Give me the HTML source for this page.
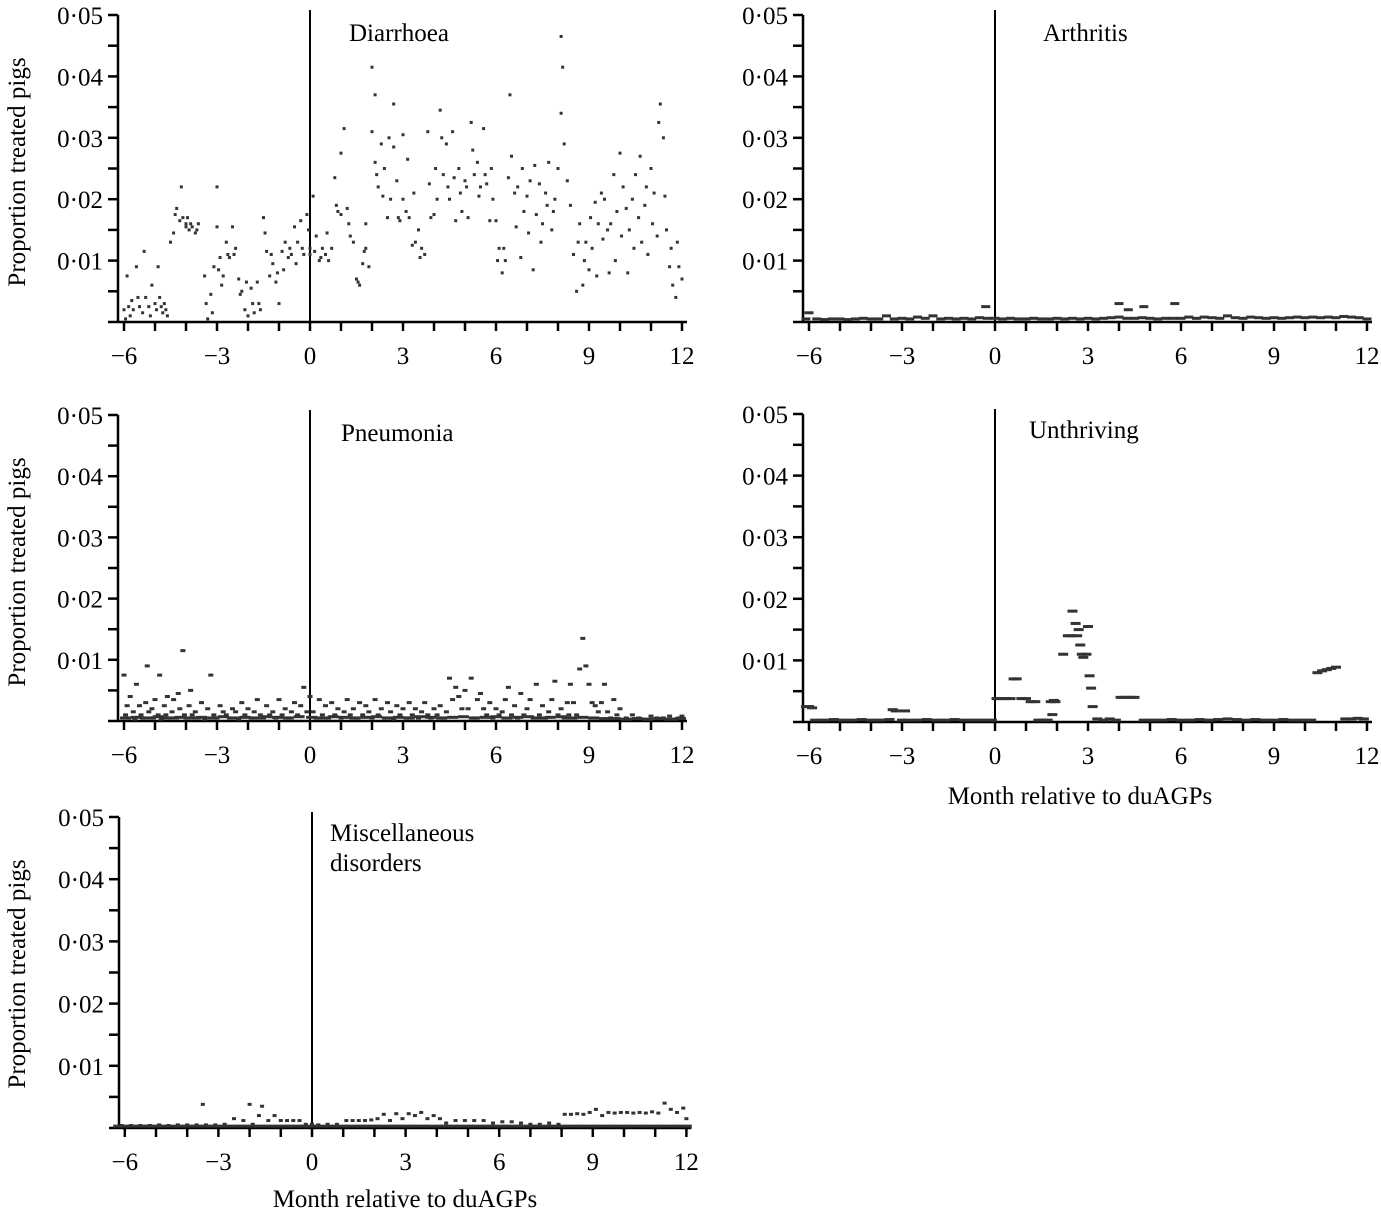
<!DOCTYPE html>
<html><head><meta charset="utf-8">
<style>
body{margin:0;background:#fff;}
svg{display:block;font-family:"Liberation Serif",serif;}
</style></head>
<body>
<svg id="fig" width="1381" height="1216" viewBox="0 0 1381 1216" xmlns="http://www.w3.org/2000/svg">
<text transform="translate(25,172) rotate(-90)" text-anchor="middle" font-size="25">Proportion treated pigs</text>
<text transform="translate(25,572) rotate(-90)" text-anchor="middle" font-size="25">Proportion treated pigs</text>
<text transform="translate(25,974) rotate(-90)" text-anchor="middle" font-size="25">Proportion treated pigs</text>
<text x="1080" y="804" text-anchor="middle" font-size="25">Month relative to duAGPs</text>
<text x="405" y="1207" text-anchor="middle" font-size="25">Month relative to duAGPs</text>
</svg>
<script>
// values in units of 0.001 (proportion treated pigs)
const xTickLabels = ["\u22126","\u22123","0","3","6","9","12"];
const xTickValues = [-6,-3,0,3,6,9,12];
const yTickLabels = ["0\u00b701","0\u00b702","0\u00b703","0\u00b704","0\u00b705"];
const yTickValues = [10,20,30,40,50];

const diarrhoeaMonths = [
-6,-5.95,-5.9,-5.85,-5.8,-5.75,-5.7,-5.6,-5.55,-5.5,
-5.4,-5.35,-5.3,-5.2,-5.15,-5.1,-5,-4.95,-4.9,-4.85,
-4.8,-4.75,-4.7,-4.65,-4.6,-4.5,-4.4,-4.35,-4.3,-4.2,
-4.15,-4.1,-4,-4,-3.95,-3.9,-3.85,-3.8,-3.7,-3.65,
-3.6,-3.4,-3.35,-3.3,-3.2,-3.15,-3.1,-3,-3,-2.95,
-2.9,-2.85,-2.8,-2.7,-2.65,-2.6,-2.5,-2.45,-2.4,-2.3,
-2.25,-2.2,-2.1,-2.05,-2,-1.9,-1.85,-1.8,-1.7,-1.65,
-1.6,-1.5,-1.45,-1.4,-1.3,-1.25,-1.2,-1.1,-1.05,-1,
-0.9,-0.85,-0.8,-0.7,-0.65,-0.6,-0.5,-0.45,-0.4,-0.3,
-0.25,-0.2,-0.1,-0.05,0,0,0.1,0.15,0.2,0.3,
0.35,0.4,0.5,0.55,0.6,0.7,0.8,0.85,0.9,1,
1,1.1,1.2,1.25,1.3,1.4,1.5,1.55,1.6,1.7,
1.75,1.8,1.8,1.9,2,2,2.1,2.1,2.15,2.2,
2.3,2.35,2.4,2.5,2.55,2.6,2.7,2.7,2.8,2.85,
2.9,3,3,3.1,3.15,3.2,3.3,3.35,3.4,3.5,
3.55,3.6,3.7,3.8,3.85,3.9,4,4.05,4.1,4.2,
4.25,4.3,4.4,4.45,4.5,4.6,4.65,4.7,4.8,4.85,
4.9,5,5.05,5.1,5.2,5.25,5.3,5.4,5.45,5.5,
5.6,5.65,5.7,5.8,5.85,5.9,6,6.05,6.1,6.2,
6.25,6.3,6.4,6.45,6.5,6.6,6.65,6.7,6.8,6.85,
6.9,7,7.05,7.1,7.2,7.25,7.3,7.4,7.45,7.5,
7.6,7.65,7.7,7.8,7.85,7.9,8,8.1,8.1,8.15,
8.2,8.3,8.4,8.5,8.6,8.65,8.7,8.8,8.85,8.9,
9,9.05,9.1,9.2,9.25,9.3,9.4,9.45,9.5,9.6,
9.65,9.7,9.8,9.85,9.9,10,10.05,10.1,10.2,10.25,
10.3,10.4,10.45,10.5,10.6,10.65,10.7,10.8,10.85,10.9,
11,11.05,11.1,11.2,11.25,11.3,11.4,11.45,11.5,11.6,
11.65,11.7,11.8,11.85,11.9,12];
const diarrhoeaValues = [
2,0.5,7.5,2.5,1,3.5,2,9,4,2.5,
1.5,11.5,4,2.5,1,6,3,2,9,4,
2.5,1.5,3,2,1,13,14.5,17.5,18.5,16.5,
22,17,15.5,16,17,15,16,15.5,14.5,15,
16,7.5,3,0.5,4.5,1.5,9,15.5,22,8.5,
10.5,6,7.5,13,11,10.5,15.5,11,12,7,
4.5,5,2,6.5,1,5.5,3,1.5,6.5,3,
2,17,14.5,11.5,7.5,11,9.5,6.5,8,3,
11.5,8.5,13,10.5,12,11,15.5,9.5,13,16.5,
12,11,17.5,15,11,12,20.5,11.5,14,10,
10.5,12,11,14.5,10,12,23.5,19,18,17.5,
27.5,31.5,18.5,16,14,13,7,6.5,6,9.5,
11.5,16,12,9,31,41.5,37,26,24,22,
29,20.5,25,17,30,20,35.5,28.5,23,17,
16.5,30.5,20,18,26.5,17,12.5,21,13,15,
10.5,12,11,31,22.5,17,17.5,25,20,34.5,
30,24,29,22,20,31,23.5,16.5,25,21,
18,23,22,17,32.5,28,24,26,20.5,22,
31.5,24,22.5,16.5,25,20,16.5,10,12,8,
12,10,23.5,37,27,21,15.5,22,10.5,25,
18,20.5,14.5,23,8.5,25.5,17.5,22.5,13,16,
21,19,26,15,18,20,25,46.5,34,41.5,
29,23,19,11,5,13,16,6,10,13,
8.5,17,12,19.5,7.5,16,21,13.5,20,15,
8,16,24,10,18,27.5,14,22,18.5,8,
15,20,12,24,17,27,13,19,22,11,
25,16,21,14,32.5,35.5,30,20.5,15,9,
12,6,4,13,9,7];

const arthritisMonths = [-6.1,-6,-5.75,-5.5,-5.25,-5,-4.75,-4.5,-4.25,-4,-3.75,-3.5,-3.25,-3,-2.75,-2.5,-2.25,-2,-1.75,-1.5,-1.25,-1,-0.75,-0.5,-0.3,-0.25,0,0.25,0.5,0.75,1,1.25,1.5,1.75,2,2.25,2.5,2.75,3,3.25,3.5,3.75,4,4,4.25,4.3,4.5,4.8,4.75,5,5.25,5.5,5.8,5.75,6,6.25,6.5,6.75,7,7.25,7.5,7.75,8,8.25,8.5,8.75,9,9.25,9.5,9.75,10,10.25,10.5,10.75,11,11.25,11.5,11.75,12];
const arthritisValues = [0.5,1.5,0.5,0.4,0.5,0.5,0.4,0.5,0.6,0.5,0.5,1,0.5,0.6,0.5,0.8,0.6,1,0.5,0.6,0.5,0.6,0.5,0.7,2.5,0.6,0.6,0.5,0.6,0.5,0.5,0.6,0.5,0.5,0.6,0.5,0.6,0.5,0.6,0.5,0.6,0.7,0.8,3,0.6,2,0.6,2.5,0.7,0.6,0.5,0.6,3,0.6,0.6,0.8,0.6,0.8,0.7,0.6,1,0.7,0.6,0.8,0.7,0.6,0.7,0.6,0.7,0.8,0.7,0.8,0.7,0.8,0.7,0.9,0.8,0.7,0.5];

const pneumoniaMonths = [-6,-5.95,-5.9,-5.85,-5.8,-5.7,-5.65,-5.6,-5.5,-5.45,-5.4,-5.3,-5.25,-5.2,-5.1,-5.05,-5,-4.9,-4.85,-4.8,-4.7,-4.65,-4.6,-4.5,-4.45,-4.4,-4.3,-4.25,-4.2,-4.1,-4.05,-4,-3.9,-3.85,-3.8,-3.7,-3.6,-3.5,-3.4,-3.3,-3.2,-3.1,-3,-2.9,-2.8,-2.7,-2.6,-2.5,-2.4,-2.3,-2.2,-2.1,-2,-1.9,-1.8,-1.7,-1.6,-1.5,-1.4,-1.3,-1.2,-1.1,-1,-0.9,-0.8,-0.7,-0.6,-0.5,-0.4,-0.3,-0.2,-0.1,0,0.1,0.2,0.3,0.4,0.5,0.6,0.7,0.8,0.9,1,1.1,1.2,1.3,1.4,1.5,1.6,1.7,1.8,1.9,2,2.1,2.2,2.3,2.4,2.5,2.6,2.7,2.8,2.9,3,3.1,3.2,3.3,3.4,3.5,3.6,3.7,3.8,3.9,4,4.1,4.2,4.3,4.4,4.5,4.6,4.7,4.8,4.9,5,5.1,5.2,5.3,5.4,5.5,5.6,5.7,5.8,5.9,6,6.1,6.2,6.3,6.4,6.5,6.6,6.7,6.8,6.9,7,7.1,7.2,7.3,7.4,7.5,7.6,7.7,7.8,7.9,8,8.1,8.2,8.3,8.35,8.4,8.5,8.6,8.7,8.8,8.9,9,9.1,9.2,9.3,9.4,9.5,9.6,9.7,9.8,9.9,10,10.2,10.4,10.6,10.8,11,11.2,11.4,11.6,11.8,11.9,12];
const pneumoniaValues = [7.5,1,2.5,0.5,4,1.5,0.3,6,2.5,1,0.5,3,9,1.5,2,0.5,3.5,1,7.5,0.3,2.5,1,4,0.5,1.5,3.5,0.5,4.5,2,11.5,1,0.5,2.5,5,1,1.5,0.5,3,0.3,2,7.5,1,0.5,2.5,1.5,1,0.5,2,1.5,0.3,3,1,2,0.5,1.5,3.5,1,0.5,2.5,1,1.5,0.5,3.5,1,2,0.5,1.5,3,1,2.5,5.5,1.5,4,1.5,0.5,3.5,1,2.5,0.5,3,1,2,0.5,1.5,3.5,1,2,0.5,3,1,2.5,1.5,0.5,3.5,1,2,0.5,3,1.5,0.3,2.5,1,2,0.5,3,1,2,0.5,1.5,3,1,0.5,2,1,2.5,0.5,1.5,7,3.5,5.5,4,2,5,2,7,0.5,3.5,4.5,2,1,3,0.5,2,1,1.5,3.5,5.5,1,2.5,0.5,4.5,1,2,3.5,0.5,6,1,2.5,0.5,1.5,3.5,6.5,1,2,0.5,3,1,6,3,1,8.5,13.5,9,6,3,2.5,1.5,3,6,1.5,0.5,3.5,1,2,0.5,1,0.5,0.3,0.8,0.5,0.5,0.8,0.3,0.5,0.8,0.5,0.5,9.5,0.8];
// dense near-zero baseline of pneumonia daily values
const pneumoniaBaseMonths = [-5.95,-5.6,-5.25,-4.9,-4.55,-4.2,-3.85,-3.5,-3.15,-2.8,-2.45,-2.1,-1.75,-1.4,-1.05,-0.7,-0.35,0.05,0.4,0.75,1.1,1.45,1.8,2.15,2.5,2.85,3.2,3.55,3.9,4.25,4.6,4.95,5.3,5.65,6,6.35,6.7,7.05,7.4,7.75,8.1,8.45,8.8,9.15,9.5,9.85,10.2,10.55,10.9,11.25,11.6,11.95];
const pneumoniaBaseValues = [0.5,0.6,0.5,0.7,0.5,0.6,0.5,0.6,0.5,0.7,0.5,0.6,0.5,0.7,0.6,0.5,0.7,0.6,0.5,0.7,0.6,0.5,0.6,0.7,0.5,0.6,0.5,0.7,0.6,0.5,0.6,0.7,0.5,0.6,0.7,0.5,0.6,0.7,0.5,0.6,0.7,0.5,0.6,0.5,0.4,0.4,0.3,0.4,0.3,0.4,0.3,0.4];

const unthrivingMonths = [-6.1,-6,-5.9,-5.8,-5.5,-5.2,-4.9,-4.6,-4.3,-4,-3.7,-3.4,-3.3,-3.2,-3,-2.9,-2.8,-2.5,-2.2,-1.9,-1.6,-1.3,-1,-0.7,-0.4,-0.1,0.05,0.2,0.35,0.5,0.6,0.7,0.85,1,1.15,1.3,1.4,1.55,1.7,1.8,1.85,1.9,1.95,2.2,2.35,2.45,2.5,2.6,2.65,2.7,2.75,2.8,2.85,2.95,3,3.05,3.1,3.15,3.3,3.5,3.7,3.9,4.05,4.2,4.35,4.5,4.8,5.1,5.4,5.7,6,6.3,6.6,6.9,7.2,7.5,7.8,8.1,8.4,8.7,9,9.3,9.6,9.9,10.2,10.4,10.55,10.7,10.85,11,11.3,11.5,11.7,11.9];
const unthrivingValues = [2.5,2.5,2.3,0.3,0.3,0.4,0.3,0.3,0.4,0.3,0.3,0.4,2,1.8,0.3,1.8,0.3,0.3,0.4,0.3,0.3,0.4,0.3,0.3,0.3,0.3,3.8,3.8,3.8,3.8,7,7,3.8,3.8,3.3,3.3,0.3,0.3,0.3,3.3,1.2,3.5,3.3,11,14,14,18,16,14,15,12.5,11,10.5,11,15.5,7.5,5.5,2.5,0.5,0.3,0.5,0.3,4,4,4,4,0.3,0.3,0.3,0.4,0.3,0.3,0.4,0.3,0.4,0.5,0.4,0.3,0.4,0.3,0.3,0.4,0.3,0.3,0.3,8,8.3,8.5,8.7,8.9,0.5,0.5,0.6,0.5];

const miscMonths = [-6.1,-5.8,-5.5,-5.2,-4.9,-4.6,-4.3,-4,-3.7,-3.5,-3.4,-3.1,-2.8,-2.5,-2.2,-2,-1.9,-1.7,-1.6,-1.4,-1.2,-1,-0.8,-0.6,-0.4,-0.2,0,0.2,0.5,0.8,1.1,1.3,1.5,1.7,1.9,2.1,2.3,2.5,2.7,2.9,3.1,3.3,3.5,3.7,3.9,4.1,4.3,4.6,4.9,5.2,5.5,5.8,6.1,6.4,6.7,7,7.3,7.6,7.9,8.1,8.3,8.5,8.7,8.9,9.1,9.3,9.5,9.7,9.9,10.1,10.3,10.5,10.7,10.9,11.1,11.3,11.5,11.7,11.9,12];
const miscValues = [0.4,0.4,0.4,0.4,0.5,0.4,0.5,0.5,0.5,3.8,0.5,0.5,0.6,1.5,1.2,3.8,0.6,2,3.5,1.2,2,1.2,1.2,1.2,1.2,0.6,0.6,0.5,0.6,0.6,1.2,1.2,1.2,1.2,1.3,1.5,2.2,1.2,2.3,1.5,2.3,2,2.5,1.5,2,1.5,0.8,1.2,1.2,1.2,1.2,0.8,1,1,0.8,0.6,0.6,0.8,0.6,2.2,2.2,2.3,2.2,2.5,3,2,2.5,2.4,2.5,2.5,2.4,2.5,2.4,2.6,2.4,4,3,2.5,3.2,1.5];
const miscBaseMonths = [-6.1,-5.6,-5.1,-4.6,-4.1,-3.6,-3.1,-2.6,-2.1,-1.6,-1.1,-0.6,-0.1,0.4,0.9,1.4,1.9,2.4,2.9,3.4,3.9,4.4,4.9,5.4,5.9,6.4,6.9,7.4,7.9,8.4,8.9,9.4,9.9,10.4,10.9,11.4,11.9];
const miscBaseValues = [0.3,0.3,0.3,0.3,0.3,0.3,0.3,0.3,0.3,0.3,0.3,0.3,0.3,0.3,0.3,0.3,0.3,0.3,0.3,0.3,0.3,0.3,0.3,0.3,0.3,0.3,0.3,0.3,0.3,0.3,0.3,0.3,0.3,0.3,0.3,0.3,0.3];

const NS = "http://www.w3.org/2000/svg";
const svg = document.getElementById("fig");
function mk(tag, attrs){ const e=document.createElementNS(NS,tag); for(const k in attrs) e.setAttribute(k,attrs[k]); svg.appendChild(e); return e; }

function drawPanel(p){
  const xScale = m => p.zero + m*p.ppm;
  const yScale = v => p.bottom - (v/50)*(p.bottom-p.top);
  const ya = mk("line",{x1:p.axisX,y1:p.top,x2:p.axisX,y2:p.bottom+1,stroke:"#000","stroke-width":2.5});
  
  
  for(let i=1;i<=10;i++){
    const yy = yScale(i*5);
    const t = mk("line",{x1:p.axisX-10,y1:yy,x2:p.axisX,y2:yy,stroke:"#000","stroke-width":2.5});
    
    
  }
  yTickValues.forEach((v,i)=>{
    const t = mk("text",{x:p.axisX-15,y:yScale(v)+9,"text-anchor":"end","font-size":25});
    t.textContent = yTickLabels[i];
    
    
  });
  const xa = mk("line",{x1:p.axisX-10,y1:p.bottom,x2:xScale(12)+5,y2:p.bottom,stroke:"#000","stroke-width":2.5});
  
  
  for(let m=-6;m<=12;m++){
    const t = mk("line",{x1:xScale(m),y1:p.bottom,x2:xScale(m),y2:p.bottom+9,stroke:"#000","stroke-width":2.5});
    
    
  }
  xTickValues.forEach((v,i)=>{
    const t = mk("text",{x:xScale(v),y:p.bottom+42,"text-anchor":"middle","font-size":25});
    t.textContent = xTickLabels[i];
    
    
  });
  const z = mk("line",{x1:xScale(0),y1:p.top-5,x2:xScale(0),y2:p.bottom,stroke:"#000","stroke-width":2});
  
  
  p.series.forEach(s=>{
    s.months.forEach((m,i)=>{
      const r = mk("rect",{x:xScale(m)-s.w/2,y:yScale(s.values[i])-1.5,width:s.w,height:3,fill:"#333"});
      
      
    });
  });
  p.title.forEach((line,i)=>{
    const t = mk("text",{x:p.titleX,y:p.titleY+i*30,"font-size":25});
    t.textContent = line;
    
    
  });
}

drawPanel({key:"diarrhoea",axisX:118,zero:310,ppm:31,top:15,bottom:322,titleX:349,titleY:41,title:["Diarrhoea"],
  series:[{months:diarrhoeaMonths,values:diarrhoeaValues,w:3}]});
drawPanel({key:"arthritis",axisX:803,zero:995,ppm:31,top:15,bottom:322,titleX:1043,titleY:41,title:["Arthritis"],
  series:[{months:arthritisMonths,values:arthritisValues,w:9}]});
drawPanel({key:"pneumonia",axisX:118,zero:310,ppm:31,top:415,bottom:721,titleX:341,titleY:441,title:["Pneumonia"],
  series:[{months:pneumoniaBaseMonths,values:pneumoniaBaseValues,w:11},{months:pneumoniaMonths,values:pneumoniaValues,w:5}]});
drawPanel({key:"unthriving",axisX:803,zero:995,ppm:31,top:414,bottom:722,titleX:1029,titleY:438,title:["Unthriving"],
  series:[{months:unthrivingMonths,values:unthrivingValues,w:10}]});
drawPanel({key:"misc",axisX:119,zero:312,ppm:31.2,top:817,bottom:1128,titleX:330,titleY:841,title:["Miscellaneous","disorders"],
  series:[{months:miscBaseMonths,values:miscBaseValues,w:17},{months:miscMonths,values:miscValues,w:4}]});
</script>
</body></html>
